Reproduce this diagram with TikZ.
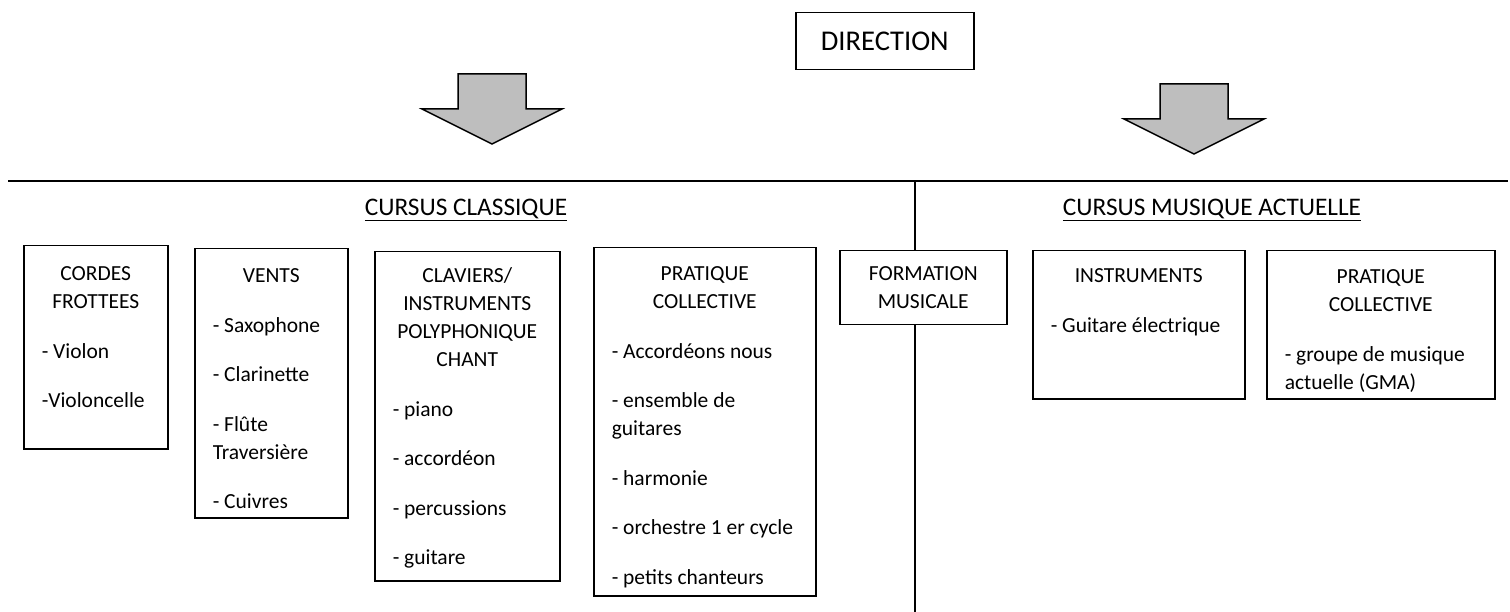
\documentclass[tikz,border=0pt]{standalone}
\usepackage{fontspec}
\setmainfont{Carlito}
\usepackage{xcolor}
\definecolor{arrowgray}{RGB}{190,190,190}
\hyphenpenalty=10000

\tikzset{
  catbox/.style={draw, fill=white, line width=1.5pt, anchor=north west,
    inner xsep=18pt, inner ysep=0pt, align=flush left,
    font=\fontsize{21.5}{28}\selectfont},
  headtext/.style={font=\fontsize{25.3}{30}\selectfont},
}
\newcommand{\gap}[1][21.5pt]{\par\vspace{#1}}

\begin{document}
\begin{tikzpicture}[x=1pt, y=-1pt, line width=1.5pt]
  \useasboundingbox (0,0) rectangle (1510,612);

  % rules
  \coordinate (ruleL) at (8,181);
  \coordinate (ruleR) at (1508,181);
  \coordinate (split) at (915,181);
  \coordinate (splitend) at (915,612);
  \draw (ruleL) -- (ruleR);
  \draw (split) -- (splitend);

  % block arrows
  \foreach \cx/\ty in {492/74, 1194/84}
    \draw[fill=arrowgray] (\cx-34,\ty) -- (\cx+34,\ty) -- (\cx+34,\ty+35)
      -- (\cx+70,\ty+35) -- (\cx,\ty+70) -- (\cx-70,\ty+35)
      -- (\cx-34,\ty+35) -- cycle;

  \node[draw, font=\fontsize{28.6}{32}\selectfont, anchor=north west, minimum height=57pt,
    minimum width=178pt] (direction) at (795,12) {DIRECTION};

  \node[headtext] (classique) at (466,210) {\underline{CURSUS CLASSIQUE}};
  \node[headtext] (actuelle) at (1212,210) {\underline{CURSUS MUSIQUE ACTUELLE}};

  % classique
  \node[catbox, text width=108pt, text height=35pt, text depth=168pt] (cordes) at (23,245)
    {{\centering CORDES\\FROTTEES\par}\gap - Violon\gap -Violoncelle};
  \node[catbox, text width=117pt, text height=34pt, text depth=235pt] (vents) at (194,248)
    {{\centering VENTS\par}\gap - Saxophone\gap - Clarinette\gap - Flûte\\Traversière\gap - Cuivres};
  \node[catbox, text width=149pt, text height=31pt, text depth=298pt] (claviers) at (374,251)
    {{\centering CLAVIERS/\\INSTRUMENTS\\POLYPHONIQUE\\CHANT\par}\gap - piano\gap - accordéon\gap - percussions\gap - guitare};
  \node[catbox, text width=186pt, text height=33pt, text depth=315pt] (pratique) at (593,247)
    {{\centering PRATIQUE\\COLLECTIVE\par}\gap - Accordéons nous\gap - ensemble de\\guitares\gap - harmonie\gap - orchestre 1 er cycle\gap - petits chanteurs};

  \node[catbox, align=flush center, text width=131pt, text height=30pt, text depth=44pt] (formation) at (839,250)
    {FORMATION\\MUSICALE};

  % musique actuelle
  \node[catbox, text width=176pt, text height=32pt, text depth=116pt] (instruments) at (1032,250)
    {{\centering INSTRUMENTS\par}\gap - Guitare électrique};
  \node[catbox, text width=192pt, text height=33pt, text depth=115pt] (pratiquema) at (1266,250)
    {{\centering PRATIQUE\\COLLECTIVE\par}\gap - groupe de musique\\actuelle (GMA)};
\end{tikzpicture}
\end{document}
